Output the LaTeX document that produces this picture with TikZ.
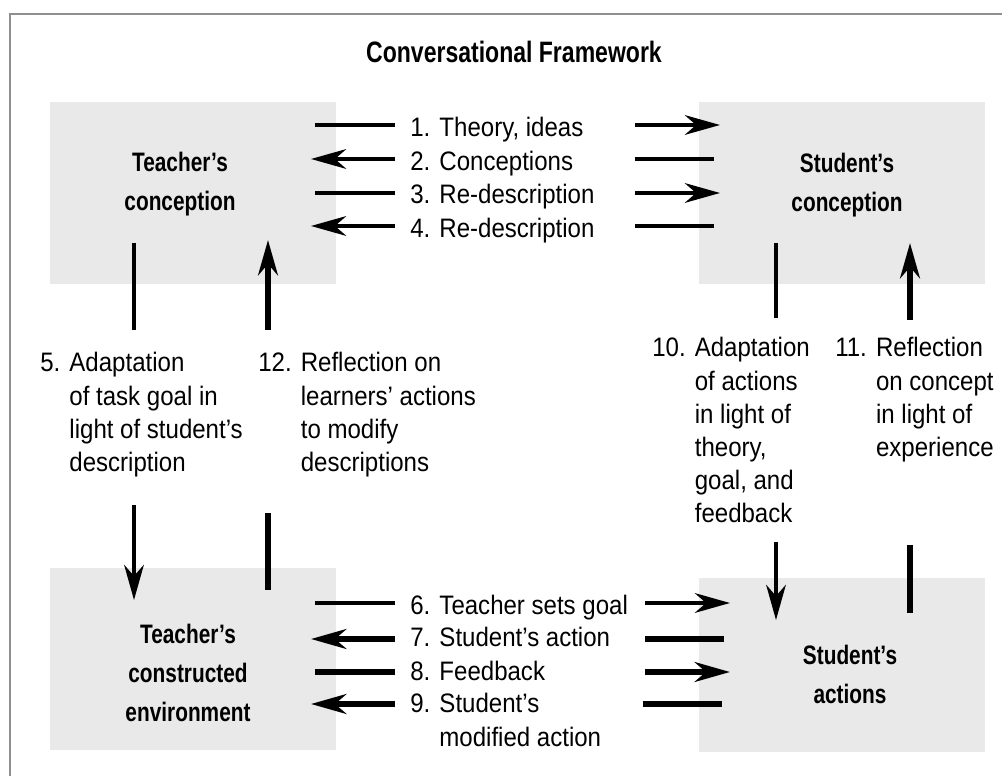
\documentclass[tikz,border=0pt]{standalone}
\usepackage{fontspec}
\setmainfont[FakeStretch=0.9]{Liberation Sans}
\newfontfamily\headfont[FakeStretch=0.78]{Liberation Sans}
\usetikzlibrary{arrows.meta}

\definecolor{boxgray}{HTML}{E9E9E9}
\definecolor{framegray}{HTML}{8E8E8E}

% número na frente, texto recuado depois dele
\newcommand{\numlabel}[2]{\begin{tabular}[t]{@{}l@{\hspace{6.5pt}}l@{}}#1 & #2\end{tabular}}

\begin{document}
\begin{tikzpicture}[
    box/.style={fill=boxgray, minimum width=7.15cm, minimum height=4.55cm, inner sep=0pt},
    boxlabel/.style={font=\headfont\bfseries\fontsize{19}{27.7}\selectfont, align=center, inner sep=0pt},
    title/.style={font=\headfont\bfseries\fontsize{21}{25}\selectfont, inner sep=0pt},
    lbl/.style={font=\fontsize{19}{23.5}\selectfont, inner sep=0pt, anchor=base west},
    stub/.style={line width=0.1cm},
    heavy/.style={line width=0.15cm},
    arr/.style={-{Stealth[length=25pt, width=14pt, inset=8pt]}}
]
    \useasboundingbox (0,0) rectangle (25.05,19.4);

    % Moldura em cima e à esquerda
    \draw[framegray, line width=0.05cm] (0.25,0) -- (0.25,19.05) -- (25.05,19.05);

    \node[title] (title) at (12.85,18.1) {Conversational Framework};

    % Os quatro quadros
    \node[box] (tc) at (4.825,14.575) {};
    \node[box] (sc) at (21.06,14.575) {};
    \node[box] (te) at (4.825,2.925) {};
    \node[box, minimum height=4.35cm] (sa) at (21.06,2.775) {};

    \node[boxlabel] (tcl) at (4.5,14.8) {Teacher’s\\conception};
    \node[boxlabel] (scl) at (21.175,14.775) {Student’s\\conception};
    \node[boxlabel] (tel) at (4.7,2.575) {Teacher’s\\constructed\\environment};
    \node[boxlabel] (sal) at (21.25,2.55) {Student’s\\actions};

    % Em cima: diálogo no nível das concepções
    \node[lbl] (m1) at (10.25,15.975) {\numlabel{1.}{Theory, ideas}};
    \node[lbl] (m2) at (10.25,15.125) {\numlabel{2.}{Conceptions}};
    \node[lbl] (m3) at (10.25,14.3) {\numlabel{3.}{Re-description}};
    \node[lbl] (m4) at (10.25,13.45) {\numlabel{4.}{Re-description}};

    \coordinate (tc1) at (7.875,16.275);
    \coordinate (tc2) at (7.775,15.425);
    \coordinate (tc3) at (7.875,14.575);
    \coordinate (tc4) at (7.775,13.75);
    \coordinate (q1) at (15.875,16.275);
    \coordinate (q2) at (15.875,15.425);
    \coordinate (q3) at (15.875,14.575);
    \coordinate (q4) at (15.875,13.75);
    \coordinate (sc1) at (18.0,16.275);
    \coordinate (sc2) at (17.85,15.425);
    \coordinate (sc3) at (18.0,14.575);
    \coordinate (sc4) at (17.85,13.75);

    \draw[stub, shorten <=0.375cm] (m1.west |- tc1) -- (tc1);
    \draw[stub, arr] (q1) -- (sc1);
    \draw[stub, arr, shorten <=0.375cm] (m2.west |- tc2) -- (tc2);
    \draw[stub] (q2) -- (sc2);
    \draw[stub, shorten <=0.375cm] (m3.west |- tc3) -- (tc3);
    \draw[stub, arr] (q3) -- (sc3);
    \draw[stub, arr, shorten <=0.375cm] (m4.west |- tc4) -- (tc4);
    \draw[stub] (q4) -- (sc4);

    % Embaixo: diálogo no nível das ações
    \node[lbl] (m6) at (10.25,4.025) {\numlabel{6.}{Teacher sets goal}};
    \node[lbl] (m7) at (10.25,3.225) {\numlabel{7.}{Student’s action}};
    \node[lbl] (m8) at (10.25,2.375) {\numlabel{8.}{Feedback}};
    \node[lbl] (m9) at (10.25,1.575) {\numlabel{9.}{Student’s\\ & modified action}};

    \coordinate (te6) at (7.875,4.325);
    \coordinate (te7) at (7.775,3.425);
    \coordinate (te8) at (7.875,2.6);
    \coordinate (te9) at (7.775,1.8);
    \coordinate (q6) at (16.125,4.325);
    \coordinate (q7) at (16.125,3.425);
    \coordinate (q8) at (16.125,2.6);
    \coordinate (q9) at (16.075,1.8);
    \coordinate (sa6) at (18.25,4.325);
    \coordinate (sa7) at (18.1,3.425);
    \coordinate (sa8) at (18.25,2.6);
    \coordinate (sa9) at (18.05,1.8);

    \draw[stub, shorten <=0.375cm] (m6.west |- te6) -- (te6);
    \draw[stub, arr] (q6) -- (sa6);
    \draw[heavy, arr, shorten <=0.375cm] (m7.west |- te7) -- (te7);
    \draw[heavy] (q7) -- (sa7);
    \draw[heavy, shorten <=0.375cm] (m8.west |- te8) -- (te8);
    \draw[heavy, arr] (q8) -- (sa8);
    \draw[heavy, arr, shorten <=0.375cm] (m9.west |- te9) -- (te9);
    \draw[heavy] (q9) -- (sa9);

    % Esquerda: o professor adapta e reflete
    \node[lbl] (t5) at (1.0,10.1)
        {\numlabel{5.}{Adaptation\\ & of task goal in\\ & light of student’s\\ & description}};
    \node[lbl] (t12) at (6.45,10.1)
        {\numlabel{12.}{Reflection on\\ & learners’ actions\\ & to modify\\ & descriptions}};

    \coordinate (tc5) at (3.35,13.325);
    \coordinate (u5) at (3.35,11.15);
    \coordinate (d5) at (3.35,6.775);
    \coordinate (te5) at (3.35,4.4);
    \draw[stub] (tc5) -- (u5);
    \draw[stub, arr] (d5) -- (te5);

    \coordinate (tc12) at (6.7,13.4);
    \coordinate (u12) at (6.7,11.15);
    \coordinate (d12) at (6.7,6.575);
    \coordinate (te12) at (6.7,4.65);
    \draw[heavy, arr] (u12) -- (tc12);
    \draw[heavy] (d12) -- (te12);

    % Direita: o aluno adapta e reflete
    \node[lbl] (t10) at (16.3,10.475)
        {\numlabel{10.}{Adaptation\\ & of actions\\ & in light of\\ & theory,\\ & goal, and\\ & feedback}};
    \node[lbl] (t11) at (20.875,10.475)
        {\numlabel{11.}{Reflection\\ & on concept\\ & in light of\\ & experience}};

    \coordinate (sc10) at (19.4,13.325);
    \coordinate (u10) at (19.4,11.45);
    \coordinate (d10) at (19.4,5.85);
    \coordinate (sa10) at (19.4,3.9);
    \draw[stub] (sc10) -- (u10);
    \draw[stub, arr] (d10) -- (sa10);

    \coordinate (sc11) at (22.75,13.325);
    \coordinate (u11) at (22.75,11.4);
    \coordinate (d11) at (22.75,5.775);
    \coordinate (sa11) at (22.75,4.075);
    \draw[heavy, arr] (u11) -- (sc11);
    \draw[heavy] (d11) -- (sa11);

\end{tikzpicture}
\end{document}
